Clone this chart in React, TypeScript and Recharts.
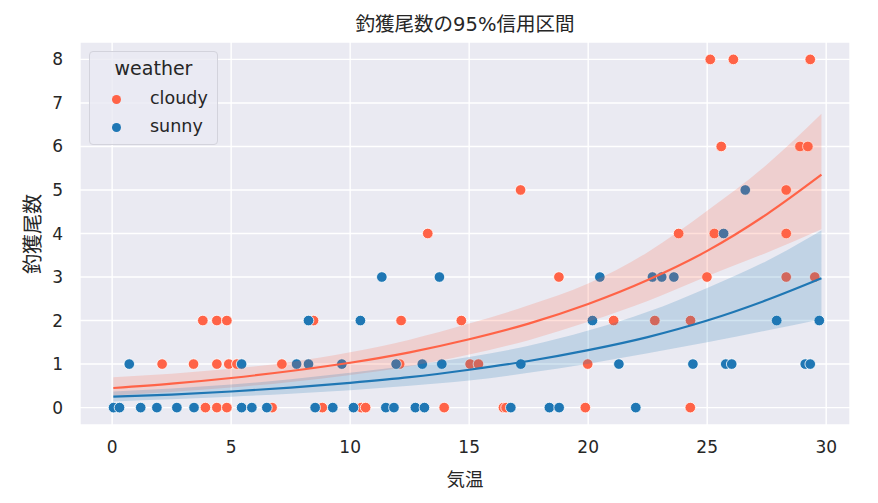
import {
  ComposedChart,
  ScatterChart,
  Scatter,
  Area,
  Line,
  XAxis,
  YAxis,
  CartesianGrid,
  Label,
} from "recharts";

const FONT = "'DejaVu Sans', 'Noto Sans CJK JP', sans-serif";
const CLOUDY = "#ff6347";
const SUNNY = "#1f77b4";

// observed catches: [temperature, count]
const cloudyPoints: [number, number][] = [
  [3.92, 0], [4.4, 0], [4.82, 0], [6.72, 0], [8.83, 0], [10.47, 0], [10.65, 0],
  [13.95, 0], [16.44, 0], [16.55, 0], [19.88, 0], [24.29, 0],
  [2.1, 1], [3.42, 1], [4.4, 1], [4.9, 1], [5.24, 1], [7.13, 1], [12.08, 1],
  [15.04, 1], [15.39, 1], [19.98, 1],
  [3.81, 2], [4.4, 2], [4.82, 2], [8.46, 2], [12.14, 2], [14.67, 2], [21.07, 2],
  [22.8, 2], [24.3, 2],
  [18.77, 3], [24.99, 3], [28.32, 3], [29.52, 3],
  [13.26, 4], [23.8, 4], [25.3, 4], [28.32, 4],
  [17.16, 5], [28.32, 5],
  [25.59, 6], [28.9, 6], [29.23, 6],
  [25.13, 8], [26.1, 8], [29.33, 8],
];

const sunnyPoints: [number, number][] = [
  [0.06, 0], [0.31, 0], [1.2, 0], [1.88, 0], [2.72, 0], [3.44, 0], [5.44, 0],
  [5.87, 0], [6.5, 0], [8.53, 0], [9.27, 0], [10.14, 0], [11.5, 0], [11.84, 0],
  [12.74, 0], [13.12, 0], [16.75, 0], [18.37, 0], [18.78, 0], [22.0, 0],
  [0.72, 1], [5.44, 1], [7.75, 1], [8.25, 1], [9.65, 1], [11.93, 1], [13.03, 1],
  [13.85, 1], [17.17, 1], [21.29, 1], [24.4, 1], [25.78, 1], [26.03, 1],
  [29.12, 1], [29.33, 1],
  [8.25, 2], [10.43, 2], [20.18, 2], [27.92, 2], [29.71, 2],
  [11.33, 3], [13.75, 3], [20.49, 3], [22.7, 3], [23.09, 3], [23.6, 3],
  [25.69, 4],
  [26.6, 5],
];

// fitted curve and 95% credible band, read at these temperatures
const bandX = [0.05, 2.5, 5, 7.5, 10, 12.5, 15, 17.5, 20, 22.5, 25, 27.5, 29.8];
const cloudyMean = [0.45, 0.55, 0.68, 0.84, 1.03, 1.27, 1.57, 1.93, 2.38, 2.93, 3.6, 4.44, 5.35];
const cloudyLow = [0.28, 0.36, 0.46, 0.59, 0.75, 0.95, 1.22, 1.55, 1.97, 2.45, 3.02, 3.56, 4.1];
const cloudyHigh = [0.7, 0.78, 0.89, 1.05, 1.27, 1.56, 1.93, 2.35, 2.85, 3.57, 4.52, 5.58, 6.75];
const sunnyMean = [0.25, 0.3, 0.37, 0.46, 0.57, 0.7, 0.87, 1.07, 1.32, 1.62, 2.0, 2.47, 2.97];
const sunnyLow = [0.14, 0.19, 0.25, 0.32, 0.4, 0.5, 0.62, 0.8, 1.01, 1.25, 1.5, 1.77, 2.03];
const sunnyHigh = [0.37, 0.44, 0.53, 0.65, 0.8, 0.96, 1.16, 1.42, 1.77, 2.2, 2.75, 3.37, 4.07];

const xTicks = [0, 5, 10, 15, 20, 25, 30];
const yTicks = [0, 1, 2, 3, 4, 5, 6, 7, 8];
const X_DOMAIN: [number, number] = [-1.35, 31];
const Y_DOMAIN: [number, number] = [-0.4, 8.4];

const bandData = bandX.map((x, i) => ({
  x,
  cloudyMean: cloudyMean[i],
  cloudyBand: [cloudyLow[i], cloudyHigh[i]],
  sunnyMean: sunnyMean[i],
  sunnyBand: [sunnyLow[i], sunnyHigh[i]],
}));

const toXY = (pts: [number, number][]) => pts.map(([x, y]) => ({ x, y }));

const dot = (color: string) => (props: any) => (
  <circle cx={props.cx} cy={props.cy} r={5.3} fill={color} stroke="#fff" strokeWidth={0.8} />
);

const tickStyle = { fill: "#262626", fontSize: 17, fontFamily: FONT };

function LegendBox() {
  return (
    <div
      style={{
        position: "absolute",
        left: 89,
        top: 51,
        width: 129,
        height: 94,
        boxSizing: "border-box",
        border: "1px solid #d3d3dc",
        borderRadius: 4,
        background: "rgba(234,234,242,0.8)",
        fontFamily: FONT,
        color: "#262626",
      }}
    >
      <div style={{ position: "absolute", left: 0, right: 0, top: 5, textAlign: "center", fontSize: 19 }}>
        weather
      </div>
      {[
        { name: "cloudy", color: CLOUDY, top: 36 },
        { name: "sunny", color: SUNNY, top: 64 },
      ].map((it) => (
        <div key={it.name} style={{ position: "absolute", left: 0, top: it.top, height: 22 }}>
          <span
            style={{
              position: "absolute",
              left: 22,
              top: 7,
              width: 9,
              height: 9,
              borderRadius: "50%",
              background: it.color,
            }}
          />
          <span style={{ position: "absolute", left: 60, top: 0, fontSize: 17.5, whiteSpace: "nowrap" }}>
            {it.name}
          </span>
        </div>
      ))}
    </div>
  );
}

export default function App() {
  return (
    <div style={{ position: "relative", width: 878, height: 503, margin: -8, background: "#fff" }}>
      <div
        style={{
          position: "absolute",
          left: 80,
          width: 770,
          top: 8,
          textAlign: "center",
          fontFamily: FONT,
          fontSize: 19.5,
          color: "#262626",
        }}
      >
        釣獲尾数の95%信用区間
      </div>

      {/* bottom layer: grid, axes, observed points */}
      <div style={{ position: "absolute", left: 0, top: 0 }}>
        <ScatterChart width={878} height={503} margin={{ top: 42, right: 28, bottom: 0, left: 0 }}>
          <CartesianGrid fill="#eaeaf2" stroke="#fff" strokeWidth={1.4} />
          <XAxis
            dataKey="x"
            type="number"
            domain={X_DOMAIN}
            ticks={xTicks}
            allowDataOverflow
            height={78}
            tickLine={false}
            axisLine={false}
            tickMargin={10}
            tick={tickStyle}
          >
            <Label
              value="気温"
              position="insideBottom"
              offset={17}
              style={{ fill: "#262626", fontSize: 18.5, fontFamily: FONT }}
            />
          </XAxis>
          <YAxis
            dataKey="y"
            type="number"
            domain={Y_DOMAIN}
            ticks={yTicks}
            allowDataOverflow
            width={80}
            tickLine={false}
            axisLine={false}
            tickMargin={11}
            tick={tickStyle}
          >
            <Label
              content={() => (
                <text
                  x={33}
                  y={234}
                  transform="rotate(-90 33 234)"
                  textAnchor="middle"
                  dominantBaseline="central"
                  fill="#262626"
                  fontSize={20}
                  fontFamily={FONT}
                >
                  釣獲尾数
                </text>
              )}
            />
          </YAxis>
          <Scatter data={toXY(cloudyPoints)} shape={dot(CLOUDY)} isAnimationActive={false} />
          <Scatter data={toXY(sunnyPoints)} shape={dot(SUNNY)} isAnimationActive={false} />
        </ScatterChart>
      </div>

      {/* top layer: credible bands and fitted curves drawn over the points */}
      <div style={{ position: "absolute", left: 0, top: 0, pointerEvents: "none" }}>
        <ComposedChart
          width={878}
          height={503}
          data={bandData}
          margin={{ top: 42, right: 28, bottom: 78, left: 80 }}
        >
          <XAxis dataKey="x" type="number" domain={X_DOMAIN} allowDataOverflow hide />
          <YAxis type="number" domain={Y_DOMAIN} allowDataOverflow hide />
          <Area
            dataKey="cloudyBand"
            type="monotone"
            fill={CLOUDY}
            fillOpacity={0.2}
            stroke="none"
            isAnimationActive={false}
          />
          <Area
            dataKey="sunnyBand"
            type="monotone"
            fill={SUNNY}
            fillOpacity={0.2}
            stroke="none"
            isAnimationActive={false}
          />
          <Line
            dataKey="cloudyMean"
            type="monotone"
            stroke={CLOUDY}
            strokeWidth={2.2}
            dot={false}
            isAnimationActive={false}
          />
          <Line
            dataKey="sunnyMean"
            type="monotone"
            stroke={SUNNY}
            strokeWidth={2.2}
            dot={false}
            isAnimationActive={false}
          />
        </ComposedChart>
      </div>

      <LegendBox />
    </div>
  );
}
